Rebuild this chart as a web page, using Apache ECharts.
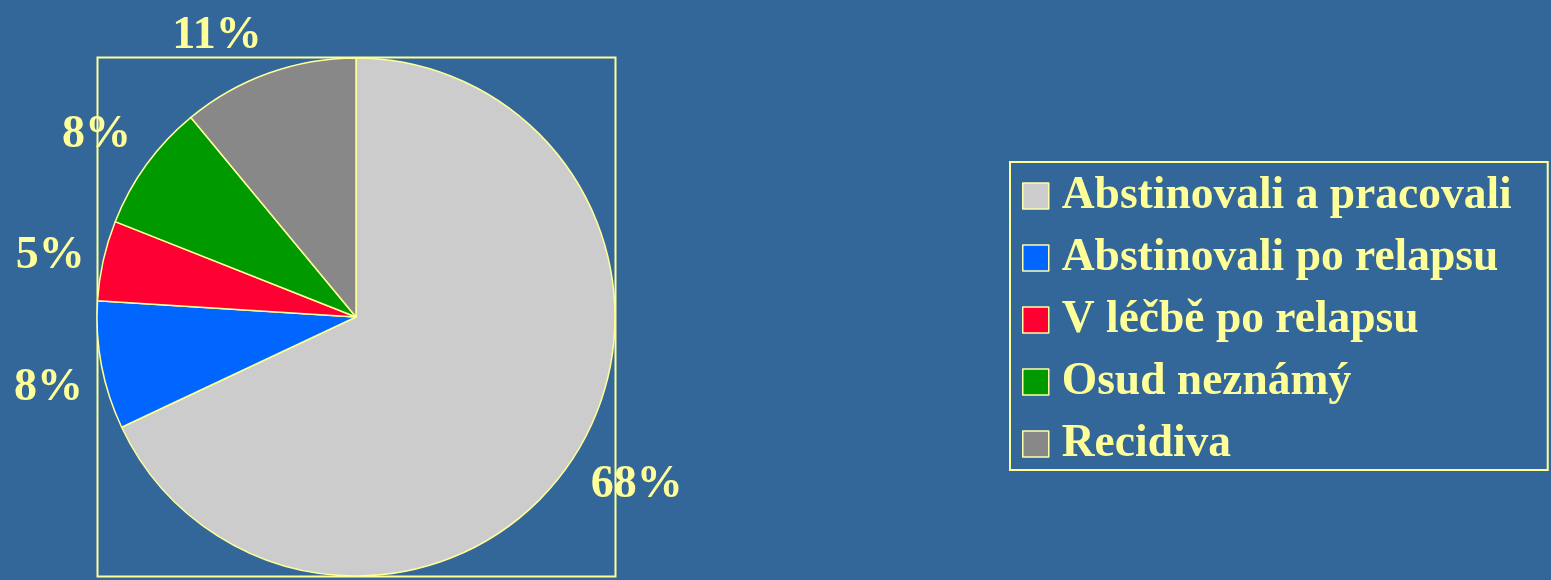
<!DOCTYPE html>
<html>
<head>
<meta charset="utf-8">
<script src="https://cdn.jsdelivr.net/npm/echarts@6/dist/echarts.min.js"></script>
<style>
html,body{margin:0;padding:0;background:#336699;}
#chart{width:1551px;height:580px;}
</style>
</head>
<body>
<div id="chart"></div>
<script>
const categories = ['Abstinovali a pracovali', 'Abstinovali po relapsu', 'V léčbě po relapsu', 'Osud neznámý', 'Recidiva'];
const values = [68, 8, 5, 8, 11];
const colors = ['#CCCCCC', '#0066FF', '#FF0033', '#009900', '#888888'];

const CX = 356, CY = 317, R = 259;
const LABEL_D = 278;      // distance of label's nearest corner from centre
const LABEL_HH = 19;      // half ink-height of label text
const font = 'Liberation Serif, Times New Roman, serif';
const LABEL_FS = 46;

const total = values.reduce((a, b) => a + b, 0);
function midAngle(i) {
  let before = 0;
  for (let k = 0; k < i; k++) before += values[k];
  return (before + values[i] / 2) / total * 2 * Math.PI; // clockwise from top
}
const ctx = document.createElement('canvas').getContext('2d');
ctx.font = 'bold ' + LABEL_FS + 'px ' + font;
function textW(s) { return ctx.measureText(s).width; }

const chart = echarts.init(document.getElementById('chart'));
chart.setOption({
  backgroundColor: '#336699',
  animation: false,
  graphic: [{
    type: 'rect',
    shape: { x: 97.5, y: 57.5, width: 518, height: 519 },
    style: { fill: 'none', stroke: '#FFFF99', lineWidth: 2 },
    z: 0
  }],
  legend: {
    orient: 'vertical',
    left: 1010,
    top: 162,
    padding: [11, 36, 3, 12],
    borderColor: '#FFFF99',
    borderWidth: 2,
    itemWidth: 26,
    itemHeight: 26,
    itemGap: 16,
    icon: 'rect',
    itemStyle: { borderColor: '#FFFFAA', borderWidth: 1.5 },
    textStyle: {
      color: '#FFFF99',
      fontFamily: font,
      fontWeight: 'bold',
      fontSize: 45.5,
      lineHeight: 46,
      padding: [0, 0, 0, 8]
    },
    data: categories
  },
  series: [{
    type: 'pie',
    center: [CX, CY],
    radius: R,
    startAngle: 90,
    clockwise: true,
    z: 2,
    itemStyle: { borderColor: '#FFFF99', borderWidth: 1.5 },
    label: {
      show: true,
      position: 'outside',
      formatter: '{c}%',
      color: '#FFFF99',
      fontFamily: font,
      fontWeight: 'bold',
      fontSize: LABEL_FS,
      width: 160,
      overflow: 'none',
      align: 'center'
    },
    labelLine: { show: false },
    labelLayout: function (params) {
      const i = params.dataIndex;
      const a = midAngle(i);
      const dx = Math.sin(a), dy = -Math.cos(a);
      const hw = textW(values[i] + '%') / 2;
      let yk;
      if (dy > 0) yk = 1;
      else yk = -Math.min(1, Math.max(0, (-dy - 0.25) / 0.35));
      return {
        x: CX + LABEL_D * dx + Math.sign(dx) * hw,
        y: CY + LABEL_D * dy + yk * LABEL_HH,
        align: 'center',
        verticalAlign: 'middle'
      };
    },
    emphasis: { disabled: true },
    data: categories.map((c, i) => ({ name: c, value: values[i], itemStyle: { color: colors[i] } }))
  }]
});
</script>
</body>
</html>
